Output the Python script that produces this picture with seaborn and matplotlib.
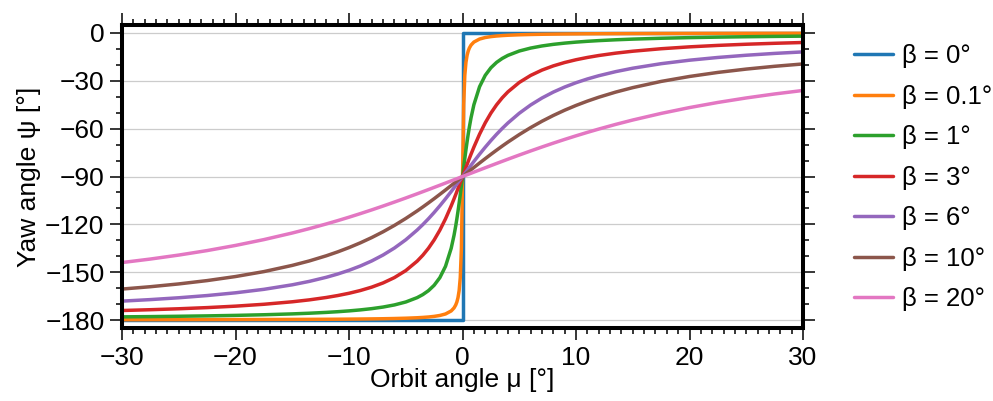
import numpy as np
import pandas as pd
import matplotlib
matplotlib.use("Agg")
import matplotlib.pyplot as plt
from matplotlib.ticker import MultipleLocator
import seaborn as sns

# Orbit angle grid (degrees)
mu = [-30, -27.5, -25, -22.5, -20, -17.5, -15, -13.5, -12, -11, -10, -9, -8, -7, -6, -5, -4, -3.5, -3,
      -2.5, -2, -1.5, -1, -0.75, -0.6, -0.5, -0.4, -0.3, -0.2, -0.1,
      0,
      0.1, 0.2, 0.3, 0.4, 0.5, 0.6, 0.75, 1, 1.5, 2, 2.5, 3, 3.5, 4, 5, 6, 7, 8, 9, 10, 11, 12,
      13.5, 15, 17.5, 20, 22.5, 25, 27.5, 30]

# beta = 0 deg : step
mu_b0 = [-30, 0, 0, 30]
psi_b0 = [-180, -180, 0, 0]

psi_b01 = [-179.80, -179.78, -179.76, -179.74, -179.71, -179.67, -179.61, -179.57, -179.52, -179.48,
           -179.42, -179.36, -179.28, -179.18, -179.04, -178.85, -178.57, -178.36, -178.09, -177.71,
           -177.14, -176.19, -174.29, -172.41, -170.54, -168.69, -165.96, -161.57, -153.43, -135.0,
           -90.0,
           -45.0, -26.57, -18.43, -14.04, -11.31, -9.46, -7.59, -5.71, -3.81, -2.86, -2.29, -1.91,
           -1.64, -1.43, -1.15, -0.96, -0.82, -0.72, -0.64, -0.58, -0.52, -0.48, -0.43, -0.39,
           -0.33, -0.29, -0.26, -0.24, -0.22, -0.20]
psi_b1 = [-178.00, -177.84, -177.63, -177.39, -177.08, -176.68, -176.14, -175.72, -175.20, -174.77,
          -174.26, -173.63, -172.85, -171.85, -170.52, -168.68, -165.95, -164.04, -161.56, -158.19,
          -153.43, -146.30, -135.0, -126.87, -120.96, -116.56, -111.80, -106.70, -101.31, -95.71,
          -90.0,
          -84.29, -78.69, -73.30, -68.20, -63.44, -59.04, -53.13, -45.0, -33.70, -26.57, -21.81,
          -18.44, -15.96, -14.05, -11.32, -9.48, -8.15, -7.15, -6.37, -5.74, -5.23, -4.80, -4.28,
          -3.86, -3.32, -2.92, -2.61, -2.37, -2.16, -2.00]
psi_b3 = [-174.02, -173.52, -172.93, -172.20, -171.29, -170.11, -168.55, -167.35, -165.85, -164.64,
          -163.21, -161.48, -159.36, -156.73, -153.37, -148.98, -143.08, -139.36, -134.96, -129.77,
          -123.66, -116.54, -108.42, -104.02, -101.30, -99.45, -97.59, -95.71, -93.81, -91.91,
          -90.0,
          -88.09, -86.19, -84.29, -82.41, -80.55, -78.70, -75.98, -71.58, -63.46, -56.34, -50.23,
          -45.04, -40.64, -36.92, -31.02, -26.63, -23.27, -20.64, -18.52, -16.79, -15.36, -14.15,
          -12.65, -11.45, -9.89, -8.71, -7.80, -7.07, -6.48, -5.98]
psi_b6 = [-168.13, -167.18, -166.03, -164.64, -162.92, -160.74, -157.90, -155.76, -153.18, -151.15,
          -148.81, -146.10, -142.94, -139.22, -134.84, -129.67, -123.57, -120.15, -116.47, -112.54,
          -108.37, -103.99, -99.43, -97.10, -95.69, -94.75, -93.80, -92.85, -91.90, -90.95,
          -90.0,
          -89.05, -88.10, -87.15, -86.20, -85.25, -84.31, -82.90, -80.57, -76.01, -71.63, -67.46,
          -63.53, -59.85, -56.43, -50.33, -45.16, -40.78, -37.06, -33.90, -31.19, -28.85, -26.82,
          -24.24, -22.10, -19.26, -17.08, -15.36, -13.97, -12.82, -11.87]
psi_b10 = [-160.57, -159.10, -157.35, -155.26, -152.72, -149.62, -145.73, -142.94, -139.70, -137.26,
           -134.56, -131.58, -128.28, -124.65, -120.66, -116.30, -111.59, -109.10, -106.53, -103.90,
           -101.19, -98.45, -95.65, -94.25, -93.40, -92.83, -92.27, -91.70, -91.13, -90.57,
           -90.0,
           -89.43, -88.87, -88.30, -87.73, -87.17, -86.60, -85.75, -84.35, -81.55, -78.81, -76.10,
           -73.47, -70.90, -68.41, -63.70, -59.34, -55.35, -51.72, -48.42, -45.44, -42.74, -40.30,
           -37.06, -34.27, -30.38, -27.28, -24.74, -22.65, -20.90, -19.43]
psi_b20 = [-143.95, -141.75, -139.26, -136.44, -133.22, -129.56, -125.42, -122.68, -119.74, -117.67,
           -115.51, -113.26, -110.93, -108.51, -106.02, -103.47, -100.85, -99.52, -98.18, -96.83,
           -95.48, -94.11, -92.75, -92.06, -91.65, -91.37, -91.10, -90.82, -90.55, -90.27,
           -90.0,
           -89.73, -89.45, -89.18, -88.90, -88.63, -88.35, -87.94, -87.25, -85.89, -84.52, -83.17,
           -81.82, -80.48, -79.15, -76.53, -73.98, -71.49, -69.07, -66.74, -64.49, -62.33, -60.26,
           -57.32, -54.58, -50.44, -46.78, -43.56, -40.74, -38.25, -36.05]

labels = ["β = 0°", "β = 0.1°", "β = 1°", "β = 3°", "β = 6°", "β = 10°", "β = 20°"]

frames = [pd.DataFrame({"mu": mu_b0, "psi": psi_b0, "beta": labels[0]})]
for lab, vals in zip(labels[1:], [psi_b01, psi_b1, psi_b3, psi_b6, psi_b10, psi_b20]):
    frames.append(pd.DataFrame({"mu": mu, "psi": vals, "beta": lab}))
df = pd.concat(frames, ignore_index=True)

sns.set_theme(style="white")
plt.rcParams["font.family"] = ["Liberation Sans", "DejaVu Sans"]
plt.rcParams["axes.unicode_minus"] = True
for k in ["text.color", "axes.labelcolor", "xtick.color", "ytick.color", "axes.edgecolor"]:
    plt.rcParams[k] = "black"

FS = 19

fig = plt.figure(figsize=(9.93, 4.01), dpi=100)
ax = fig.add_axes([0.1229, 0.182, 0.6858, 0.7557])

palette = sns.color_palette("tab10", 7)
sns.lineplot(data=df, x="mu", y="psi", hue="beta", hue_order=labels, palette=palette,
             estimator=None, sort=False, linewidth=2.5, ax=ax)

ax.set_xlim(-30, 30)
ax.set_ylim(-185, 5)
ax.xaxis.set_major_locator(MultipleLocator(10))
ax.xaxis.set_minor_locator(MultipleLocator(1))
ax.yaxis.set_major_locator(MultipleLocator(30))
ax.yaxis.set_minor_locator(MultipleLocator(10))
ax.grid(axis="y", which="major", color="#cccccc", linewidth=0.9)
ax.set_axisbelow(True)

for s in ax.spines.values():
    s.set_visible(True)
    s.set_color("black")
    s.set_linewidth(2.9)

ax.tick_params(which="both", direction="out", top=True, right=True, bottom=True, left=True,
               color="black", labelcolor="black", labelsize=FS, width=1.1)
ax.tick_params(which="major", length=8.6, pad=4)
ax.tick_params(which="minor", length=4.3)
ax.tick_params(axis="x", which="both", labeltop=False)
ax.tick_params(axis="y", which="both", labelright=False)

ax.set_xlabel("Orbit angle μ [°]", fontsize=FS, labelpad=-1, color="black")
ax.set_ylabel("Yaw angle ψ [°]", fontsize=FS, labelpad=3, color="black")

leg = ax.legend(loc="upper left", bbox_to_anchor=(1.06, 0.97), frameon=False, fontsize=18.5,
                handlelength=1.5, handletextpad=0.35, labelspacing=0.64, borderaxespad=0)
for t in leg.get_texts():
    t.set_color("black")

fig.savefig("out.png", dpi=100)
